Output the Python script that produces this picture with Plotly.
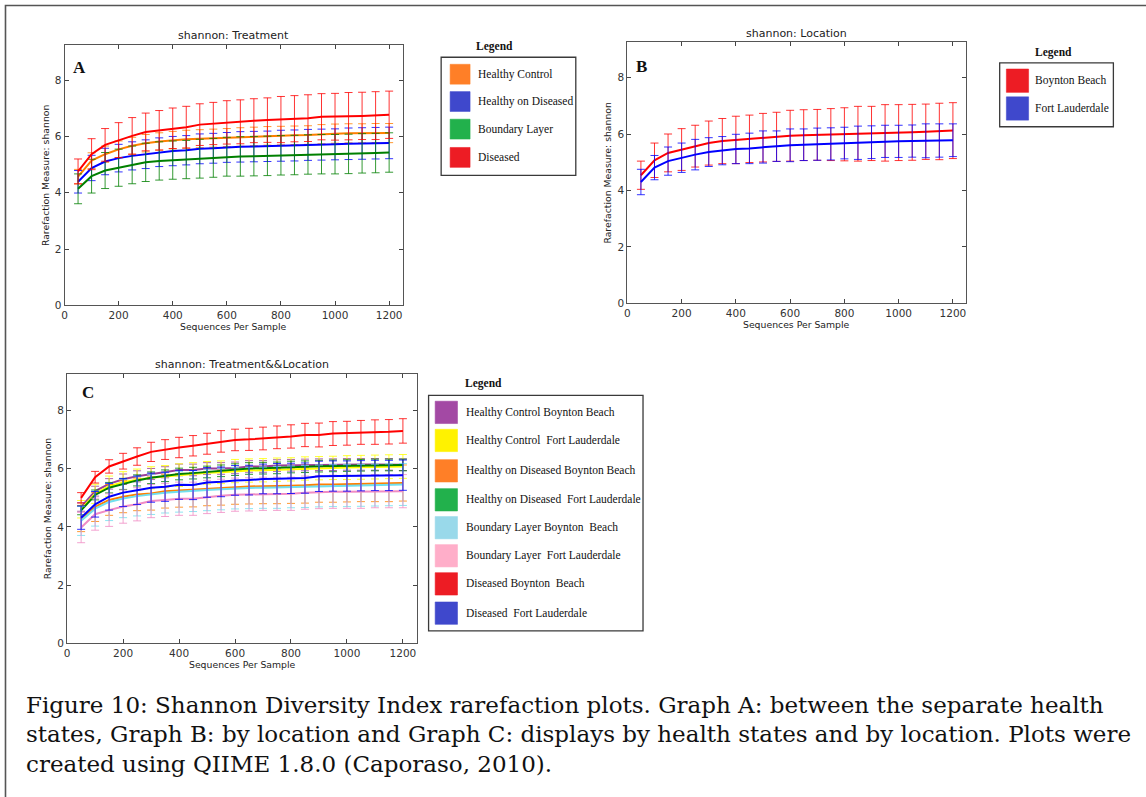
import plotly.graph_objects as go

W, H = 1146, 797

# ---------------- data ----------------
depths = [50, 100, 150, 200, 250, 300, 350, 400, 450, 500, 550, 600,
          650, 700, 750, 800, 850, 900, 950, 1000, 1050, 1100, 1150, 1200]

# Panel A: Treatment
a_names = ["Healthy Control", "Healthy on Diseased", "Boundary Layer", "Diseased"]
a_line_colors = ["#ff7f00", "#0000ff", "#008000", "#ff0000"]
a_swatch_colors = ["#ff7f27", "#3f48cc", "#22b14c", "#ed1c24"]
a_hc = [4.57, 5.14, 5.37, 5.54, 5.67, 5.76, 5.82, 5.87, 5.90, 5.92, 5.94, 5.96,
        5.98, 6.00, 6.02, 6.03, 6.04, 6.05, 6.08, 6.10, 6.11, 6.11, 6.12, 6.12]
a_hc_err = [0.26, 0.28, 0.29, 0.30, 0.30, 0.31, 0.31, 0.31, 0.32, 0.32, 0.32, 0.32,
            0.33, 0.33, 0.33, 0.33, 0.33, 0.33, 0.34, 0.34, 0.34, 0.34, 0.34, 0.34]
a_hod = [4.39, 4.88, 5.11, 5.23, 5.31, 5.37, 5.44, 5.48, 5.51, 5.56, 5.58, 5.61,
         5.63, 5.64, 5.65, 5.67, 5.68, 5.70, 5.71, 5.72, 5.74, 5.75, 5.76, 5.77]
a_hod_err = [0.40, 0.45, 0.47, 0.49, 0.50, 0.51, 0.51, 0.52, 0.52, 0.53, 0.53, 0.53,
             0.54, 0.54, 0.54, 0.55, 0.55, 0.55, 0.55, 0.55, 0.56, 0.56, 0.56, 0.56]
a_bl = [4.14, 4.59, 4.79, 4.89, 4.99, 5.08, 5.13, 5.16, 5.18, 5.21, 5.24, 5.28,
        5.29, 5.30, 5.31, 5.33, 5.34, 5.36, 5.37, 5.37, 5.38, 5.40, 5.41, 5.43]
a_bl_err = [0.53, 0.60, 0.64, 0.66, 0.67, 0.68, 0.68, 0.68, 0.68, 0.69, 0.69, 0.69,
            0.70, 0.70, 0.70, 0.70, 0.70, 0.70, 0.70, 0.70, 0.70, 0.70, 0.70, 0.70]
a_dis = [4.76, 5.37, 5.70, 5.87, 6.02, 6.16, 6.22, 6.29, 6.33, 6.42, 6.46, 6.50,
         6.52, 6.56, 6.58, 6.60, 6.63, 6.65, 6.70, 6.70, 6.72, 6.73, 6.74, 6.77]
a_dis_err = [0.44, 0.55, 0.58, 0.62, 0.65, 0.67, 0.70, 0.72, 0.74, 0.74, 0.75, 0.77,
             0.78, 0.78, 0.79, 0.82, 0.82, 0.83, 0.82, 0.83, 0.84, 0.84, 0.85, 0.84]

# Panel B: Location
b_names = ["Boynton Beach", "Fort Lauderdale"]
b_line_colors = ["#ff0000", "#0000ff"]
b_swatch_colors = ["#ed1c24", "#3f48cc"]
b_bb = [4.54, 5.07, 5.33, 5.45, 5.57, 5.68, 5.75, 5.79, 5.83, 5.87, 5.90, 5.94,
        5.96, 5.97, 5.98, 5.99, 6.01, 6.02, 6.04, 6.05, 6.06, 6.08, 6.09, 6.12]
b_bb_err = [0.50, 0.61, 0.67, 0.74, 0.74, 0.78, 0.80, 0.84, 0.84, 0.86, 0.87, 0.90,
            0.90, 0.90, 0.92, 0.94, 0.97, 0.96, 1.00, 0.99, 0.99, 0.98, 1.00, 0.99]
b_fl = [4.30, 4.81, 5.04, 5.16, 5.27, 5.36, 5.41, 5.47, 5.49, 5.54, 5.57, 5.60,
        5.62, 5.64, 5.65, 5.68, 5.69, 5.71, 5.74, 5.74, 5.75, 5.76, 5.77, 5.78]
b_fl_err = [0.45, 0.43, 0.50, 0.52, 0.54, 0.51, 0.50, 0.52, 0.54, 0.57, 0.54, 0.58,
            0.56, 0.57, 0.57, 0.56, 0.59, 0.58, 0.57, 0.57, 0.57, 0.60, 0.59, 0.58]

# Panel C: Treatment && Location
c_names = ["Healthy Control Boynton Beach", "Healthy Control  Fort Lauderdale",
           "Healthy on Diseased Boynton Beach", "Healthy on Diseased  Fort Lauderdale",
           "Boundary Layer Boynton  Beach", "Boundary Layer  Fort Lauderdale",
           "Diseased Boynton  Beach", "Diseased  Fort Lauderdale"]
c_line_colors = ["#9a3f9a", "#ffff00", "#ff7f00", "#008000",
                 "#70e0ee", "#f08cc4", "#ff0000", "#0000ff"]
c_swatch_colors = ["#a349a4", "#fff200", "#ff7f27", "#22b14c",
                   "#99d9ea", "#ffaec9", "#ed1c24", "#3f48cc"]
c_hcbb = [4.69, 5.23, 5.48, 5.64, 5.74, 5.82, 5.88, 5.96, 5.96, 6.01, 6.01, 6.03,
          6.08, 6.08, 6.11, 6.12, 6.13, 6.14, 6.14, 6.15, 6.15, 6.15, 6.15, 6.14]
c_hcbb_err = [0.15, 0.17, 0.18, 0.18, 0.19, 0.19, 0.19, 0.20, 0.20, 0.20, 0.20, 0.20,
              0.20, 0.20, 0.20, 0.20, 0.20, 0.20, 0.20, 0.20, 0.20, 0.20, 0.20, 0.20]
c_hcfl = [4.61, 5.14, 5.40, 5.54, 5.62, 5.69, 5.73, 5.78, 5.82, 5.86, 5.88, 5.92,
          5.94, 5.95, 5.97, 5.98, 6.01, 6.02, 6.03, 6.04, 6.05, 6.06, 6.07, 6.08]
c_hcfl_err = [0.30, 0.33, 0.35, 0.36, 0.37, 0.38, 0.38, 0.39, 0.39, 0.39, 0.39, 0.40,
              0.40, 0.40, 0.40, 0.40, 0.40, 0.40, 0.40, 0.41, 0.41, 0.41, 0.41, 0.41]
c_hodbb = [4.29, 4.69, 4.93, 5.04, 5.12, 5.15, 5.23, 5.26, 5.28, 5.32, 5.35, 5.38,
           5.39, 5.40, 5.40, 5.42, 5.43, 5.46, 5.46, 5.47, 5.48, 5.49, 5.49, 5.51]
c_hodbb_err = [0.45, 0.50, 0.53, 0.55, 0.56, 0.57, 0.58, 0.58, 0.59, 0.59, 0.60, 0.60,
               0.60, 0.60, 0.60, 0.61, 0.61, 0.61, 0.61, 0.61, 0.61, 0.62, 0.62, 0.62]
c_hodfl = [4.57, 5.10, 5.35, 5.48, 5.60, 5.69, 5.76, 5.82, 5.85, 5.89, 5.93, 5.97,
           6.01, 6.02, 6.03, 6.06, 6.07, 6.09, 6.10, 6.11, 6.12, 6.13, 6.13, 6.13]
c_hodfl_err = [0.15, 0.17, 0.18, 0.19, 0.19, 0.20, 0.20, 0.20, 0.20, 0.20, 0.20, 0.20,
               0.20, 0.20, 0.20, 0.20, 0.20, 0.20, 0.20, 0.20, 0.20, 0.20, 0.20, 0.20]
c_blbb = [4.21, 4.63, 4.86, 4.98, 5.06, 5.12, 5.18, 5.21, 5.23, 5.27, 5.30, 5.33,
          5.34, 5.35, 5.36, 5.38, 5.39, 5.41, 5.42, 5.42, 5.43, 5.44, 5.45, 5.46]
c_blbb_err = [0.50, 0.60, 0.64, 0.66, 0.68, 0.69, 0.70, 0.70, 0.70, 0.71, 0.71, 0.71,
              0.71, 0.71, 0.72, 0.72, 0.72, 0.72, 0.72, 0.72, 0.72, 0.72, 0.72, 0.72]
c_blfl = [3.98, 4.44, 4.58, 4.70, 4.78, 4.89, 4.93, 4.97, 4.97, 5.03, 5.07, 5.11,
          5.12, 5.14, 5.14, 5.14, 5.18, 5.20, 5.21, 5.21, 5.21, 5.23, 5.23, 5.23]
c_blfl_err = [0.52, 0.55, 0.56, 0.57, 0.57, 0.57, 0.57, 0.57, 0.57, 0.57, 0.57, 0.57,
              0.57, 0.57, 0.57, 0.57, 0.57, 0.57, 0.57, 0.57, 0.57, 0.57, 0.57, 0.57]
c_dbb = [5.00, 5.71, 6.08, 6.26, 6.42, 6.58, 6.66, 6.73, 6.79, 6.86, 6.94, 6.99,
         7.01, 7.04, 7.08, 7.11, 7.16, 7.16, 7.21, 7.22, 7.25, 7.26, 7.27, 7.30]
c_dbb_err = [0.18, 0.20, 0.23, 0.27, 0.30, 0.33, 0.34, 0.35, 0.35, 0.36, 0.37, 0.37,
             0.38, 0.39, 0.39, 0.40, 0.40, 0.41, 0.41, 0.41, 0.41, 0.42, 0.42, 0.42]
c_dfl = [4.32, 4.78, 5.04, 5.18, 5.26, 5.35, 5.38, 5.45, 5.44, 5.53, 5.55, 5.60,
         5.61, 5.65, 5.66, 5.67, 5.68, 5.74, 5.75, 5.75, 5.76, 5.77, 5.77, 5.78]
c_dfl_err = [0.40, 0.44, 0.46, 0.48, 0.49, 0.50, 0.50, 0.50, 0.50, 0.51, 0.51, 0.51,
             0.51, 0.51, 0.52, 0.52, 0.52, 0.52, 0.52, 0.52, 0.52, 0.52, 0.52, 0.52]

panel_titles = ["shannon: Treatment", "shannon: Location", "shannon: Treatment&&Location"]
panel_letters = ["A", "B", "C"]
x_title = "Sequences Per Sample"
y_title = "Rarefaction Measure: shannon"
caption_lines = [
    "Figure 10: Shannon Diversity Index rarefaction plots. Graph A: between the separate health",
    "states, Graph B: by location and Graph C: displays by health states and by location. Plots were",
    "created using QIIME 1.8.0 (Caporaso, 2010).",
]

# ---------------- helpers ----------------
def PX(x):
    return x / W

def PY(y):
    return 1 - y / H

def rgba(hexc, a):
    h = hexc.lstrip("#")
    return "rgba(%d,%d,%d,%.2f)" % (int(h[0:2], 16), int(h[2:4], 16), int(h[4:6], 16), a)

fig = go.Figure()

# panel geometry in pixels: (left, top, right, bottom)
panels = [
    (61.7, 45.0, 400.7, 307.7),
    (626.0, 42.3, 966.0, 305.7),
    (64.3, 376.7, 415.0, 648.3),
]
series = [
    list(zip([a_hc, a_hod, a_bl, a_dis], [a_hc_err, a_hod_err, a_bl_err, a_dis_err], a_line_colors)),
    list(zip([b_bb, b_fl], [b_bb_err, b_fl_err], b_line_colors)),
    list(zip([c_hcbb, c_hcfl, c_hodbb, c_hodfl, c_blbb, c_blfl, c_dbb, c_dfl],
             [c_hcbb_err, c_hcfl_err, c_hodbb_err, c_hodfl_err, c_blbb_err, c_blfl_err, c_dbb_err, c_dfl_err],
             c_line_colors)),
]

axis_common = dict(showline=True, linecolor="#555555", linewidth=1, mirror="allticks",
                   ticks="inside", ticklen=4, tickcolor="#444444", tickwidth=1,
                   tickfont=dict(family="DejaVu Sans", size=10.5, color="#333333"),
                   showgrid=False, zeroline=False, fixedrange=True)

layout = {}
annotations = []
shapes = []

for i, ((l, t, r, b), ser) in enumerate(zip(panels, series)):
    sfx = "" if i == 0 else str(i + 1)
    xa, ya = "x" + sfx, "y" + sfx
    layout["xaxis" + sfx] = dict(axis_common, domain=[PX(l), PX(r)], anchor=ya,
                                 range=[0, 1250], tick0=0, dtick=200)
    layout["yaxis" + sfx] = dict(axis_common, domain=[PY(b), PY(t)], anchor=xa,
                                 range=[0, 9.26], tick0=0, dtick=2)
    for ys, es, col in ser:
        fig.add_trace(go.Scatter(
            x=depths, y=ys, mode="lines", xaxis=xa, yaxis=ya,
            line=dict(color=col, width=2),
            error_y=dict(type="data", array=es, visible=True,
                         color=rgba(col, 0.8), thickness=1, width=4),
            showlegend=False, hoverinfo="skip"))
    cx = (l + r) / 2
    annotations.append(dict(text=panel_titles[i], x=PX(cx), y=PY(t - 9), xref="paper", yref="paper",
                            showarrow=False, xanchor="center", yanchor="middle",
                            font=dict(family="DejaVu Sans", size=11, color="#222222")))
    annotations.append(dict(text=x_title, x=PX(cx), y=PY(b + 20.8), xref="paper", yref="paper",
                            showarrow=False, xanchor="center", yanchor="middle",
                            font=dict(family="DejaVu Sans", size=9.3, color="#222222")))
    annotations.append(dict(text=y_title, x=PX(l - 19.5), y=PY((t + b) / 2), xref="paper", yref="paper",
                            showarrow=False, xanchor="center", yanchor="middle", textangle=-90,
                            font=dict(family="DejaVu Sans", size=9.3, color="#222222")))

# panel letters
for letter, (lx, ly) in zip(panel_letters, [(76.7, 67.7), (640.0, 66.7), (85.0, 395.7)]):
    annotations.append(dict(text="<b>%s</b>" % letter, x=PX(lx), y=PY(ly), xref="paper", yref="paper",
                            showarrow=False, xanchor="center", yanchor="middle",
                            font=dict(family="Liberation Serif", size=17, color="#111111")))

# legends (drawn boxes with colour swatches)
legends = [
    dict(names=a_names, colors=a_swatch_colors, title_xy=(493.0, 46.7),
         box=(439.3, 57.7, 574.3, 176.7), sw=(448.3, 468.3), sh=20,
         rows=[74.8, 102.3, 130.1, 158.6], tx=474.3),
    dict(names=b_names, colors=b_swatch_colors, title_xy=(1053.3, 53.3),
         box=(999.3, 63.3, 1113.3, 127.7), sw=(1006.0, 1028.3), sh=23.5,
         rows=[81.3, 109.3], tx=1033.0),
    dict(names=c_names, colors=c_swatch_colors, title_xy=(481.7, 386.0),
         box=(426.7, 398.3, 641.7, 635.7), sw=(433.3, 455.7), sh=22.5,
         rows=[415.5, 443.8, 474.4, 503.6, 531.7, 560.0, 588.3, 617.8], tx=462.7),
]
for lg in legends:
    annotations.append(dict(text="<b>Legend</b>", x=PX(lg["title_xy"][0]), y=PY(lg["title_xy"][1]),
                            xref="paper", yref="paper", showarrow=False,
                            xanchor="center", yanchor="middle",
                            font=dict(family="Liberation Serif", size=11.5, color="#111111")))
    bx0, by0, bx1, by1 = lg["box"]
    shapes.append(dict(type="rect", xref="paper", yref="paper",
                       x0=PX(bx0), x1=PX(bx1), y0=PY(by1), y1=PY(by0),
                       line=dict(color="#3a3a3a", width=1.3), fillcolor="rgba(0,0,0,0)"))
    for name, col, cy in zip(lg["names"], lg["colors"], lg["rows"]):
        shapes.append(dict(type="rect", xref="paper", yref="paper",
                           x0=PX(lg["sw"][0]), x1=PX(lg["sw"][1]),
                           y0=PY(cy + lg["sh"] / 2), y1=PY(cy - lg["sh"] / 2),
                           line=dict(color=rgba(col, 0.55), width=1), fillcolor=col))
        annotations.append(dict(text=name, x=PX(lg["tx"]), y=PY(cy), xref="paper", yref="paper",
                                showarrow=False, xanchor="left", yanchor="middle",
                                font=dict(family="Liberation Serif", size=11.5, color="#111111")))

# caption
for line, cy in zip(caption_lines, [710.0, 740.0, 770.0]):
    annotations.append(dict(text=line, x=PX(21), y=PY(cy), xref="paper", yref="paper",
                            showarrow=False, xanchor="left", yanchor="middle",
                            font=dict(family="DejaVu Serif", size=23, color="#111111")))

# outer frame
shapes.append(dict(type="rect", xref="paper", yref="paper",
                   x0=PX(2.5), x1=PX(1152), y0=PY(805), y1=PY(5.5),
                   line=dict(color="#555555", width=1.6), fillcolor="rgba(0,0,0,0)"))

fig.update_layout(
    width=W, height=H,
    margin=dict(l=0, r=0, t=0, b=0, pad=0),
    paper_bgcolor="white", plot_bgcolor="white",
    showlegend=False,
    annotations=annotations,
    shapes=shapes,
    **layout,
)

fig.write_html("out.html",
               config={"displayModeBar": False},
               post_script="document.body.style.margin='0';document.body.style.padding='0';document.body.style.overflow='hidden';")
